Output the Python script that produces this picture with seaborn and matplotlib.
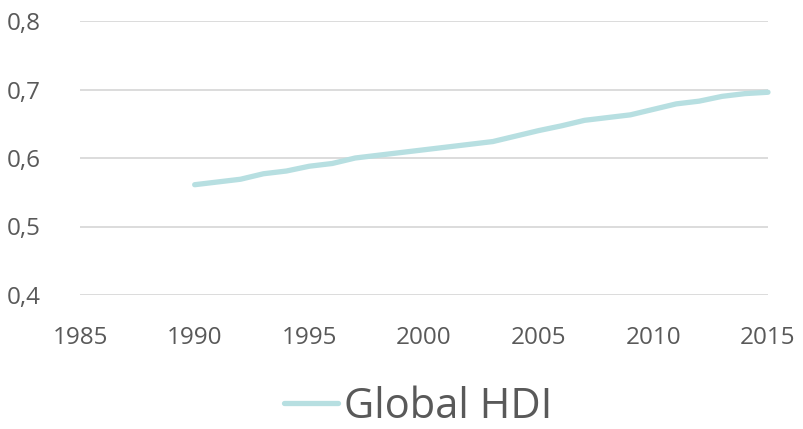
import matplotlib
matplotlib.use("Agg")
import matplotlib.pyplot as plt
import seaborn as sns
import pandas as pd
from matplotlib.ticker import FuncFormatter, FixedLocator

years = [1990, 1991, 1992, 1993, 1994, 1995, 1996, 1997, 1998, 1999, 2000,
         2001, 2002, 2003, 2004, 2005, 2006, 2007, 2008, 2009, 2010, 2011,
         2012, 2013, 2014, 2015]
hdi = [0.561, 0.565, 0.569, 0.577, 0.581, 0.588, 0.592, 0.600, 0.604, 0.608,
       0.612, 0.616, 0.620, 0.624, 0.632, 0.640, 0.647, 0.655, 0.659, 0.663,
       0.671, 0.679, 0.683, 0.690, 0.694, 0.696]
series_name = "Global HDI"
x_ticks = [1985, 1990, 1995, 2000, 2005, 2010, 2015]
y_ticks = [0.4, 0.5, 0.6, 0.7, 0.8]

sns.set_style("white")
plt.rcParams["font.family"] = ["Open Sans", "DejaVu Sans"]

text_color = "#595959"
line_color = "#b7dfe1"

df = pd.DataFrame({"year": years, "value": hdi, "series": series_name})

fig = plt.figure(figsize=(8.04, 4.29), dpi=100)
ax = fig.add_axes([80 / 804, 1 - 295 / 429, (768 - 80) / 804, (295 - 21) / 429])

sns.lineplot(data=df, x="year", y="value", hue="series",
             palette=[line_color], linewidth=3.8, ax=ax, legend=False,
             solid_capstyle="round")

ax.set_xlim(1985, 2015)
ax.set_ylim(0.4, 0.8)
ax.xaxis.set_major_locator(FixedLocator(x_ticks))
ax.yaxis.set_major_locator(FixedLocator(y_ticks))
ax.yaxis.set_major_formatter(FuncFormatter(lambda v, p: f"{v:.1f}".replace(".", ",")))
ax.xaxis.set_major_formatter(FuncFormatter(lambda v, p: f"{int(round(v))}"))

ax.grid(axis="y", color="#d9d9d9", linewidth=1.3)
ax.grid(axis="x", visible=False)
for s in ax.spines.values():
    s.set_visible(False)
ax.tick_params(axis="both", length=0, labelsize=17.5, labelcolor=text_color)
ax.tick_params(axis="y", pad=28)
ax.tick_params(axis="x", pad=22)
ax.set_xlabel("")
ax.set_ylabel("")
ax.set_axisbelow(True)
for line in ax.get_lines():
    line.set_clip_on(False)

handle = plt.Line2D([], [], color=line_color, linewidth=3.8, solid_capstyle="round")
fig.legend([handle], [series_name], loc="center", bbox_to_anchor=(0.52, 1 - 407 / 429),
           frameon=False, fontsize=30, labelcolor=text_color, handlelength=1.3,
           handletextpad=0.15)

fig.savefig("out.png", dpi=100)
